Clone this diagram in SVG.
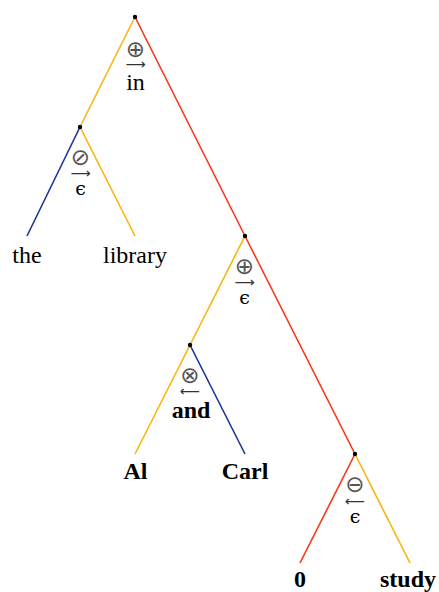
<svg xmlns="http://www.w3.org/2000/svg" width="439" height="592" viewBox="0 0 439 592">
<style>
.o{stroke:#FBB40A;stroke-width:1.6;fill:none}
.r{stroke:#F8361A;stroke-width:1.6;fill:none}
.b{stroke:#1C3596;stroke-width:1.6;fill:none}
.dot{fill:#000}
.lf{font-family:"Liberation Serif",serif;font-size:24px;text-anchor:middle;fill:#000}
.bd{font-weight:bold}
.op{font-family:"DejaVu Sans",sans-serif;font-size:23px;text-anchor:middle;fill:#555}
.ar{font-family:"DejaVu Sans",sans-serif;font-size:14px;text-anchor:middle;fill:#333}
.ep{font-family:"DejaVu Serif","Liberation Serif",serif;font-size:19px;text-anchor:middle;fill:#000}
</style>
<rect width="439" height="592" fill="#fff"/>
<g id="connectors">
<line class="o" x1="135" y1="17" x2="80" y2="127"/>
<line class="r" x1="135" y1="17" x2="245" y2="236"/>
<line class="b" x1="80" y1="127" x2="27" y2="236"/>
<line class="o" x1="80" y1="127" x2="135" y2="236"/>
<line class="o" x1="245" y1="236" x2="190" y2="345"/>
<line class="r" x1="245" y1="236" x2="355" y2="454"/>
<line class="o" x1="190" y1="345" x2="135" y2="454"/>
<line class="b" x1="190" y1="345" x2="245" y2="454"/>
<line class="r" x1="355" y1="454" x2="300" y2="563"/>
<line class="o" x1="355" y1="454" x2="410" y2="563"/>
</g>
<g id="n-root">
<circle class="dot" cx="135" cy="17" r="2.2"/>
<text class="op" x="135.5" y="56.5">⊕</text>
<text class="ar" x="135.5" y="69">⟶</text>
<text class="lf" x="135.5" y="90">in</text>
</g>
<g id="n-left">
<circle class="dot" cx="80" cy="127" r="2.2"/>
<text class="op" x="80.5" y="165">⊘</text>
<text class="ar" x="80.5" y="178">⟶</text>
<text class="ep" x="80.5" y="195">ϵ</text>
</g>
<g id="n-mid">
<circle class="dot" cx="245" cy="236" r="2.2"/>
<text class="op" x="244.5" y="273.5">⊕</text>
<text class="ar" x="244.5" y="287">⟶</text>
<text class="ep" x="244.5" y="304">ϵ</text>
</g>
<g id="n-and">
<circle class="dot" cx="190" cy="345" r="2.2"/>
<text class="op" x="190" y="382.5">⊗</text>
<text class="ar" x="190" y="396">⟵</text>
<text class="lf bd" x="191" y="418">and</text>
</g>
<g id="n-zero">
<circle class="dot" cx="355" cy="454" r="2.2"/>
<text class="op" x="355" y="492">⊖</text>
<text class="ar" x="355" y="506">⟵</text>
<text class="ep" x="355" y="523">ϵ</text>
</g>
<g id="leaf-the"><text class="lf" x="27" y="263">the</text></g>
<g id="leaf-library"><text class="lf" x="135" y="263">library</text></g>
<g id="leaf-al"><text class="lf bd" x="135.5" y="479">Al</text></g>
<g id="leaf-carl"><text class="lf bd" x="245" y="479">Carl</text></g>
<g id="leaf-0"><text class="lf bd" x="300" y="587">0</text></g>
<g id="leaf-study"><text class="lf bd" x="408" y="587">study</text></g>
</svg>
